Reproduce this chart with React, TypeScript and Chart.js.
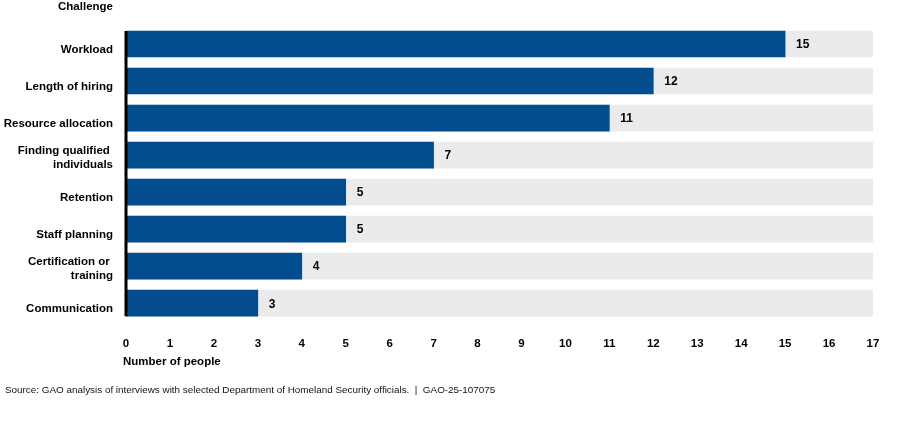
import React, { useEffect, useRef } from "react";
import { Chart, registerables } from "chart.js";

Chart.register(...registerables);

const categories: (string | string[])[] = [
  "Workload",
  "Length of hiring",
  "Resource allocation",
  ["Finding qualified ", "individuals"],
  "Retention",
  "Staff planning",
  ["Certification or ", "training"],
  "Communication",
];
const values: number[] = [15, 12, 11, 7, 5, 5, 4, 3];
const axisMax = 17;
const backgroundValues: number[] = categories.map(() => axisMax);

const BLUE = "#034d8f";
const GREY = "#ebebeb";
const FONT = "'Liberation Sans', Arial, sans-serif";

export default function App() {
  const ref = useRef<HTMLCanvasElement | null>(null);

  useEffect(() => {
    if (!ref.current) return;
    const labelPlugin = {
      id: "customLabels",
      afterDatasetsDraw(chart: any) {
        const ctx = chart.ctx;
        const area = chart.chartArea;
        const meta = chart.getDatasetMeta(1);
        const bg = chart.getDatasetMeta(0);
        ctx.save();
        // value labels
        ctx.fillStyle = "#000";
        ctx.font = `bold 12px ${FONT}`;
        ctx.textAlign = "left";
        ctx.textBaseline = "middle";
        meta.data.forEach((bar: any, i: number) => {
          ctx.fillText(String(values[i]), bar.x + 11, bar.y + 1);
        });
        // category labels
        ctx.font = `bold 11.5px ${FONT}`;
        ctx.textAlign = "right";
        ctx.textBaseline = "middle";
        bg.data.forEach((bar: any, i: number) => {
          const lab = categories[i];
          if (Array.isArray(lab)) {
            const lh = 14.5;
            const c = bar.y + 2.5;
            lab.forEach((ln, j) => {
              ctx.fillText(ln, area.left - 13, c + (j - (lab.length - 1) / 2) * lh);
            });
          } else {
            ctx.fillText(lab, area.left - 13, bar.y + 6);
          }
        });
        // left axis line
        const first = bg.data[0];
        const last = bg.data[bg.data.length - 1];
        ctx.strokeStyle = "#000";
        ctx.lineWidth = 3;
        ctx.beginPath();
        ctx.moveTo(area.left, first.y - first.height / 2);
        ctx.lineTo(area.left, last.y + last.height / 2);
        ctx.stroke();
        // titles
        ctx.font = `bold 11.5px ${FONT}`;
        ctx.textAlign = "right";
        ctx.textBaseline = "middle";
        ctx.fillText("Challenge", 113, 7);
        ctx.textAlign = "left";
        ctx.fillText("Number of people", 123, 362);
        ctx.font = `9.9px ${FONT}`;
        ctx.fillStyle = "#111";
        ctx.fillText(
          "Source: GAO analysis of interviews with selected Department of Homeland Security officials.  |  GAO-25-107075",
          5,
          390
        );
        ctx.restore();
      },
    };

    const chart = new Chart(ref.current, {
      type: "bar",
      data: {
        labels: categories.map((c) => (Array.isArray(c) ? c.join("") : c)),
        datasets: [
          {
            data: backgroundValues,
            backgroundColor: GREY,
            barThickness: 26,
            grouped: false,
            order: 2,
          },
          {
            data: values,
            backgroundColor: BLUE,
            barThickness: 26,
            grouped: false,
            order: 1,
          },
        ],
      },
      options: {
        indexAxis: "y",
        animation: false,
        responsive: false,
        maintainAspectRatio: false,
        layout: { padding: { left: 126, right: 27, top: 25.5, bottom: 64.5 } },
        plugins: { legend: { display: false }, tooltip: { enabled: false } },
        scales: {
          x: {
            min: 0,
            max: axisMax,
            grid: { display: false, drawTicks: false },
            border: { display: false },
            ticks: {
              stepSize: 1,
              padding: 15,
              color: "#000",
              font: { family: FONT, weight: "bold", size: 11.5 },
            },
          },
          y: {
            grid: { display: false, drawTicks: false },
            border: { display: false },
            ticks: { display: false },
          },
        },
      },
      plugins: [labelPlugin],
    });
    return () => chart.destroy();
  }, []);

  return (
    <div style={{ position: "absolute", left: 0, top: 0, width: 900, height: 430, background: "#fff" }}>
      <canvas ref={ref} width={900} height={430} style={{ width: 900, height: 430 }} />
    </div>
  );
}
